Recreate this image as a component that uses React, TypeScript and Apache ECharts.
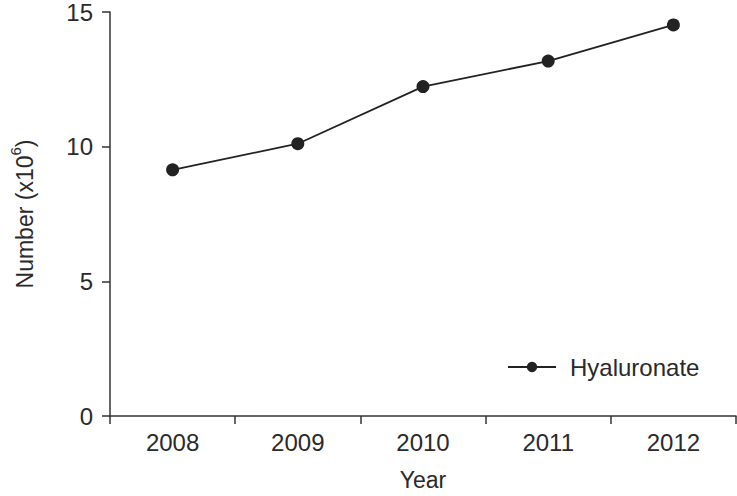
import React, { useEffect, useRef } from "react";
import * as echarts from "echarts";

const categories = ["2008", "2009", "2010", "2011", "2012"];
const hyaluronate = [9.14, 10.11, 12.23, 13.18, 14.52];
const yTicks = { min: 0, max: 15, interval: 5 };

export default function App() {
  const ref = useRef<HTMLDivElement>(null);
  useEffect(() => {
    if (!ref.current) return;
    const chart = echarts.init(ref.current, null, { renderer: "svg" });
    const font = "'Liberation Sans', Arial, sans-serif";
    const axisColor = "#333";
    const textColor = "#2a2a2a";
    chart.setOption({
      animation: false,
      backgroundColor: "#fff",
      grid: { left: 103, right: 1, top: 9.3, bottom: 75.3, containLabel: false },
      legend: {
        left: 502,
        top: 350,
        itemWidth: 48,
        itemHeight: 13,
        textStyle: { fontFamily: font, fontSize: 24, color: textColor, padding: [0, 0, 0, 9] },
        data: ["Hyaluronate"],
      },
      xAxis: {
        type: "category",
        data: categories,
        boundaryGap: true,
        name: "Year",
        nameLocation: "middle",
        nameGap: 52,
        nameTextStyle: { fontFamily: font, fontSize: 23, color: textColor },
        axisLine: { lineStyle: { color: axisColor, width: 1.5 } },
        axisTick: { show: true, length: 8, alignWithLabel: false, lineStyle: { color: axisColor, width: 1.5 } },
        axisLabel: { fontFamily: font, fontSize: 24, color: textColor, margin: 14 },
        splitLine: { show: false },
      },
      yAxis: {
        type: "value",
        min: yTicks.min,
        max: yTicks.max,
        interval: yTicks.interval,
        name: "{a|Number (x10}{sup|6}{a|)}",
        nameLocation: "middle",
        nameGap: 74,
        nameRotate: 90,
        nameTextStyle: {
          fontFamily: font,
          color: textColor,
          rich: {
            a: { fontFamily: font, fontSize: 23, color: textColor, lineHeight: 28, verticalAlign: "bottom" },
            sup: { fontFamily: font, fontSize: 15, color: textColor, lineHeight: 15, verticalAlign: "top" },
          },
        },
        axisLine: { show: true, lineStyle: { color: axisColor, width: 1.5 } },
        axisTick: { show: true, length: 8, lineStyle: { color: axisColor, width: 1.5 } },
        axisLabel: { fontFamily: font, fontSize: 24, color: textColor, margin: 17 },
        splitLine: { show: false },
      },
      series: [
        {
          name: "Hyaluronate",
          type: "line",
          data: hyaluronate,
          symbol: "circle",
          symbolSize: 13,
          lineStyle: { color: "#222", width: 1.8 },
          itemStyle: { color: "#222" },
        },
      ],
    });
    return () => chart.dispose();
  }, []);
  return <div ref={ref} style={{ width: 737, height: 496, position: "absolute", left: 0, top: 0 }} />;
}
